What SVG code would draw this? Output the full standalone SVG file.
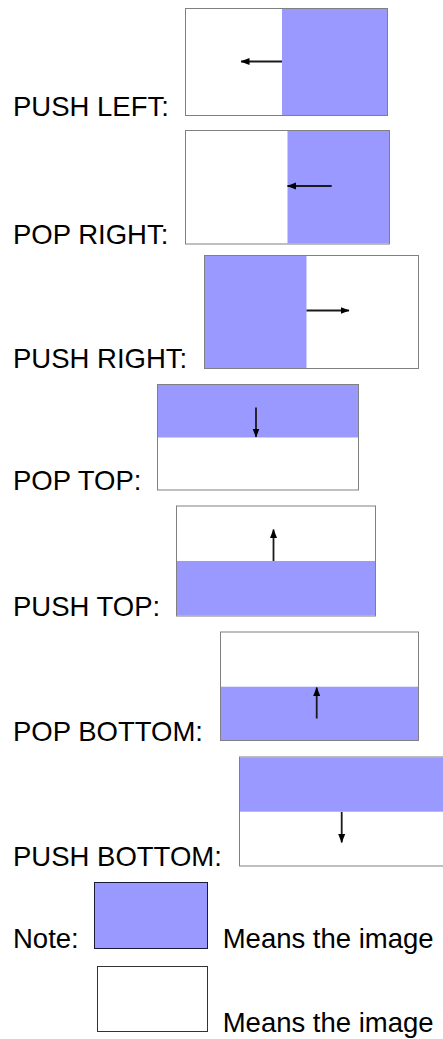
<svg xmlns="http://www.w3.org/2000/svg" width="443" height="1039" viewBox="0 0 443 1039">
  <style>
    .label { font-family: "Liberation Sans", Arial, sans-serif; font-size: 27.5px; fill: #000; }
    .frame { fill: #fff; stroke: #808080; stroke-width: 1; }
    .fill { fill: #9999ff; }
    .arrow { stroke: #1a1a1a; stroke-width: 1.8; fill: none; marker-end: url(#head); }
  </style>
  <defs>
    <marker id="head" markerUnits="userSpaceOnUse" markerWidth="9" markerHeight="9" viewBox="0 0 9 9" refX="8.5" refY="4.5" orient="auto">
      <path d="M0,1 L9,4.5 L0,8 Z" fill="#000"/>
    </marker>
  </defs>
  <rect width="443" height="1039" fill="#fff"/>

  <g id="push-left">
    <text class="label" x="13" y="116">PUSH LEFT:</text>
    <rect class="frame" x="185.5" y="8.5" width="202" height="107"/>
    <rect class="fill" x="282" y="9" width="105" height="106"/>
  </g>

  <g id="pop-right">
    <text class="label" x="13" y="244">POP RIGHT:</text>
    <rect class="frame" x="185.5" y="130.5" width="204" height="113.5"/>
    <rect class="fill" x="287.5" y="131" width="101.5" height="112.5"/>
  </g>

  <g id="push-right">
    <text class="label" x="13" y="368">PUSH RIGHT:</text>
    <rect class="frame" x="204.5" y="255.5" width="214" height="113"/>
    <rect class="fill" x="205" y="256" width="101.5" height="112"/>
  </g>

  <g id="pop-top">
    <text class="label" x="13" y="490">POP TOP:</text>
    <rect class="frame" x="157.5" y="384.5" width="201" height="105.5"/>
    <rect class="fill" x="158" y="385" width="200" height="52.5"/>
  </g>

  <g id="push-top">
    <text class="label" x="13" y="616">PUSH TOP:</text>
    <rect class="frame" x="176.5" y="506" width="199" height="110"/>
    <rect class="fill" x="177" y="561" width="198" height="54.5"/>
  </g>

  <g id="pop-bottom">
    <text class="label" x="13" y="741">POP BOTTOM:</text>
    <rect class="frame" x="220.5" y="632" width="198" height="108.5"/>
    <rect class="fill" x="221" y="686.7" width="197" height="53.3"/>
  </g>

  <g id="push-bottom">
    <text class="label" x="13" y="866">PUSH BOTTOM:</text>
    <rect class="frame" x="239.5" y="757" width="220" height="109"/>
    <rect class="fill" x="240" y="757.5" width="219" height="54.2"/>
  </g>

  <g id="legend-filled">
    <text class="label" x="13" y="948">Note:</text>
    <rect x="94.5" y="882.5" width="113" height="66" fill="#9999ff" stroke="#1a1a3a" stroke-width="1"/>
    <text class="label" x="222.7" y="948">Means the image</text>
  </g>

  <g id="legend-empty">
    <rect x="97.5" y="966.5" width="110" height="65" fill="#fff" stroke="#333" stroke-width="1"/>
    <text class="label" x="222.7" y="1031.5">Means the image</text>
  </g>

  <g id="connectors">
    <line class="arrow" x1="282" y1="61.5" x2="241" y2="61.5"/>
    <line class="arrow" x1="331.7" y1="186" x2="287.5" y2="186"/>
    <line class="arrow" x1="306.5" y1="310.5" x2="349" y2="310.5"/>
    <line class="arrow" x1="256" y1="407.5" x2="256" y2="437"/>
    <line class="arrow" x1="273.5" y1="561" x2="273.5" y2="529.5"/>
    <line class="arrow" x1="316.7" y1="718.5" x2="316.7" y2="687.5"/>
    <line class="arrow" x1="341.7" y1="812" x2="341.7" y2="842.5"/>
  </g>
</svg>
